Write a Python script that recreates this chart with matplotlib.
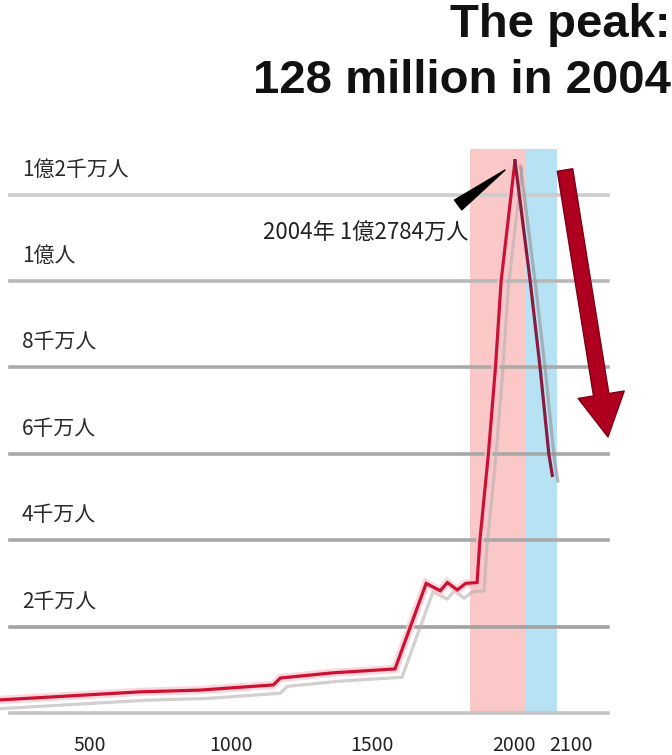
import numpy as np
import matplotlib
matplotlib.use("Agg")
import matplotlib.pyplot as plt
import matplotlib.patheffects as pe

plt.rcParams['font.family'] = ['Noto Sans CJK JP', 'DejaVu Sans']

# historical population (millions)
hist_years = [150, 680, 890, 1150, 1175, 1360, 1580, 1690, 1740, 1765, 1800, 1830,
              1870, 1880, 1910, 1935, 1955, 2004]
hist_pop = [2.9, 4.9, 5.3, 6.5, 8.1, 9.3, 10.2, 30.0, 28.3, 30.2, 28.5, 30.0,
            30.2, 40.0, 60.0, 80.0, 100.0, 127.84]

# projected decline
proj_years = [2004, 2030, 2047, 2062, 2068]
proj_pop = [127.84, 100.0, 80.0, 60.0, 55.0]

grid_vals = [0, 20, 40, 60, 80, 100, 120]
grid_labels = ['', '2千万人', '4千万人', '6千万人', '8千万人', '1億人', '1億2千万人']
grid_colors = ['#c4c4c4', '#a2a2a2', '#a8a8a8', '#a8a8a8', '#aaaaaa', '#b8b8b8', '#cccccc']

xticks = [500, 1000, 1500, 2000, 2100]
xticklabels = ['500', '1000', '1500', '2000', '2100']

bands = [(1845, 2021, '#fbc8c8'), (2021, 2076, '#b6e2f4')]

# compressed time axis before the peak, stretched after it
def fwd(x):
    x = np.asarray(x, dtype=float)
    return np.where(x <= 2004, (x - 2004) * 0.283, (x - 2004) * 0.583)

def inv(p):
    p = np.asarray(p, dtype=float)
    return np.where(p <= 0, 2004 + p / 0.283, 2004 + p / 0.583)


fig = plt.figure(figsize=(6.72, 7.55), dpi=100)
ax = fig.add_axes([0, 20/755, 1, 735/755])
ax.set_xscale('function', functions=(fwd, inv))
ax.set_xlim(184.2, 2273.3)
ax.set_ylim(-5.09, 165.05)

for s in ax.spines.values():
    s.set_visible(False)
ax.set_yticks([])
ax.set_xticks(xticks)
ax.set_xticklabels(xticklabels, fontsize=14, color='#222222')
ax.tick_params(axis='x', length=0, pad=0)
ax.set_xticks([], minor=True)

# shaded periods
for x0, x1, c in bands:
    ax.fill_between([x0, x1], 0, 130.5, color=c, lw=0, zorder=0)

# horizontal reference lines + labels
for v, lab, c in zip(grid_vals, grid_labels, grid_colors):
    ax.axhline(v, xmin=10/672, xmax=608/672, color=c, lw=2.6, zorder=1)
    if lab:
        ax.text(22/672, v + 5.8, lab, transform=ax.get_yaxis_transform(),
                fontsize=15, color='#2a2a2a', ha='left', va='center')

shadow = [pe.SimpleLineShadow(offset=(5, -6), shadow_color='#b8b0b0', alpha=0.6),
          pe.Stroke(linewidth=6, foreground='#f7c6cf', alpha=0.7),
          pe.Normal()]

ax.plot(hist_years, hist_pop, color='#cc1233', lw=2.3, zorder=3,
        solid_joinstyle='miter', path_effects=shadow)
ax.plot(proj_years, proj_pop, color='#8a1a3e', lw=2.3, zorder=3,
        path_effects=[pe.SimpleLineShadow(offset=(4, -4), shadow_color='#909090', alpha=0.6),
                      pe.Normal()])

# peak callout
ax.annotate('', xy=(1969, 125.7), xytext=(1803, 117.6),
            arrowprops=dict(arrowstyle='wedge,tail_width=0.55,shrink_factor=0.5',
                            color='black', mutation_scale=16, shrinkA=0, shrinkB=0),
            zorder=4)
ax.text(1113, 111.1, '2004年 1億2784万人', fontsize=16, color='#222222',
        ha='left', va='center', zorder=4)

# big downward arrow
ax.annotate('', xy=(2163.5, 63.9), xytext=(2089.8, 125.7),
            arrowprops=dict(arrowstyle='simple,head_length=1.1,head_width=1.2,tail_width=0.4',
                            fc='#b0001f', ec='#7c0016', lw=1, mutation_scale=28,
                            shrinkA=0, shrinkB=0),
            zorder=5)

# headline
fig.text(671/672, 1 - 37/755, 'The peak:', ha='right', va='baseline',
         fontsize=34, fontweight='bold', family='Liberation Sans', color='#111111')
fig.text(671/672, 1 - 93/755, '128 million in 2004', ha='right', va='baseline',
         fontsize=34, fontweight='bold', family='Liberation Sans', color='#111111')

fig.savefig('out.png', dpi=100)
